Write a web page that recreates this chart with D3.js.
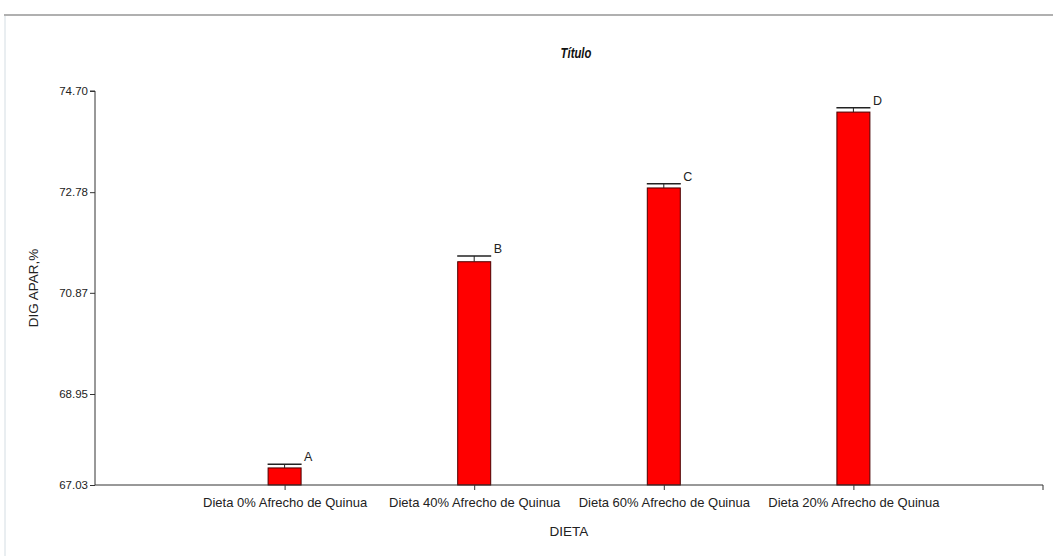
<!DOCTYPE html>
<html>
<head>
<meta charset="utf-8">
<script src="https://cdn.jsdelivr.net/npm/d3@7"></script>
<style>
  html, body { margin: 0; padding: 0; background: #fff; }
  svg { display: block; }
  text { font-family: "Liberation Sans", Arial, sans-serif; }
</style>
</head>
<body>
<svg id="chart" width="1053" height="556"></svg>
<script>
const categories = [
  "Dieta 0% Afrecho de Quinua",
  "Dieta 40% Afrecho de Quinua",
  "Dieta 60% Afrecho de Quinua",
  "Dieta 20% Afrecho de Quinua"
];
const means = [67.39, 71.46, 72.86, 74.30];
const errors = [0.08, 0.11, 0.08, 0.08];
const letters = ["A", "B", "C", "D"];
const yTicks = [67.03, 68.95, 70.87, 72.78, 74.70];

(function () {
const svg = d3.select("#chart");
const W = 1053, H = 556;

// frame lines
svg.append("line").attr("x1", 4).attr("x2", W).attr("y1", 15).attr("y2", 15)
  .attr("stroke", "#b0b0b0").attr("stroke-width", 2);
svg.append("line").attr("x1", 5).attr("x2", 5).attr("y1", 16).attr("y2", H)
  .attr("stroke", "#d4dde3").attr("stroke-width", 1);

const pLeft = 95, pRight = 1043, pTop = 91, pBottom = 485;

const x = d3.scalePoint().domain(categories).range([pLeft, pRight]).padding(1);
const y = d3.scaleLinear()
  .domain([yTicks[0], yTicks[1], yTicks[4]])
  .range([pBottom, 394, pTop]);

const barW = 33;

// title
svg.append("text").attr("x", 0).attr("y", 0)
  .attr("text-anchor", "middle")
  .attr("font-size", 14.5).attr("font-weight", "bold").attr("font-style", "italic")
  .attr("fill", "#111")
  .attr("transform", "translate(576,58) scale(0.78,1)")
  .text("Título");

// bars
const g = svg.append("g");
g.selectAll("rect.bar").data(means).join("rect")
  .attr("class", "bar")
  .attr("x", (d, i) => x(categories[i]) - barW / 2)
  .attr("y", d => y(d))
  .attr("width", barW)
  .attr("height", d => pBottom - y(d))
  .attr("fill", "#ff0000")
  .attr("stroke", "#4a0000")
  .attr("stroke-width", 1);

// error bars
g.selectAll("line.err").data(means).join("line")
  .attr("class", "err")
  .attr("x1", (d, i) => x(categories[i]))
  .attr("x2", (d, i) => x(categories[i]))
  .attr("y1", d => y(d))
  .attr("y2", (d, i) => y(d + errors[i]))
  .attr("stroke", "#222").attr("stroke-width", 1);
g.selectAll("line.cap").data(means).join("line")
  .attr("class", "cap")
  .attr("x1", (d, i) => x(categories[i]) - barW / 2 - 0.5)
  .attr("x2", (d, i) => x(categories[i]) + barW / 2 + 0.5)
  .attr("y1", (d, i) => y(d + errors[i]))
  .attr("y2", (d, i) => y(d + errors[i]))
  .attr("stroke", "#222").attr("stroke-width", 1.5);

// letters
g.selectAll("text.lt").data(means).join("text")
  .attr("class", "lt")
  .attr("x", (d, i) => x(categories[i]) + barW / 2 + 3)
  .attr("y", (d, i) => y(d + errors[i]) - 3)
  .attr("font-size", 12.5).attr("fill", "#222")
  .text((d, i) => letters[i]);

// y axis
const yAxis = d3.axisLeft(y).tickValues(yTicks).tickSize(5).tickPadding(2)
  .tickFormat(d3.format(".2f"));
const ya = svg.append("g").attr("transform", `translate(${pLeft},0)`).call(yAxis);
ya.select(".domain").attr("stroke", "#333").attr("d", `M-5,${pTop}H0V${pBottom}`);
ya.selectAll(".tick line").attr("stroke", "#333");
ya.selectAll(".tick text").attr("font-size", 11.5).attr("fill", "#222")
  .attr("font-family", "Liberation Sans, Arial, sans-serif");

// x axis
const xAxis = d3.axisBottom(x).tickSize(5).tickPadding(8);
const xa = svg.append("g").attr("transform", `translate(0,${pBottom})`).call(xAxis);
xa.select(".domain").attr("stroke", "#333").attr("d", `M${pLeft},0H${pRight}V5`);
xa.selectAll(".tick line").attr("stroke", "#333");
xa.selectAll(".tick text").attr("font-size", 13).attr("fill", "#222")
  .attr("font-family", "Liberation Sans, Arial, sans-serif");

// axis titles
svg.append("text").attr("x", (pLeft + pRight) / 2).attr("y", 536)
  .attr("text-anchor", "middle").attr("font-size", 13.5).attr("fill", "#222")
  .text("DIETA");
svg.append("text")
  .attr("transform", `translate(38,${(pTop + pBottom) / 2}) rotate(-90)`)
  .attr("text-anchor", "middle").attr("font-size", 13.5).attr("fill", "#222")
  .text("DIG APAR,%");
})();
</script>
</body>
</html>
